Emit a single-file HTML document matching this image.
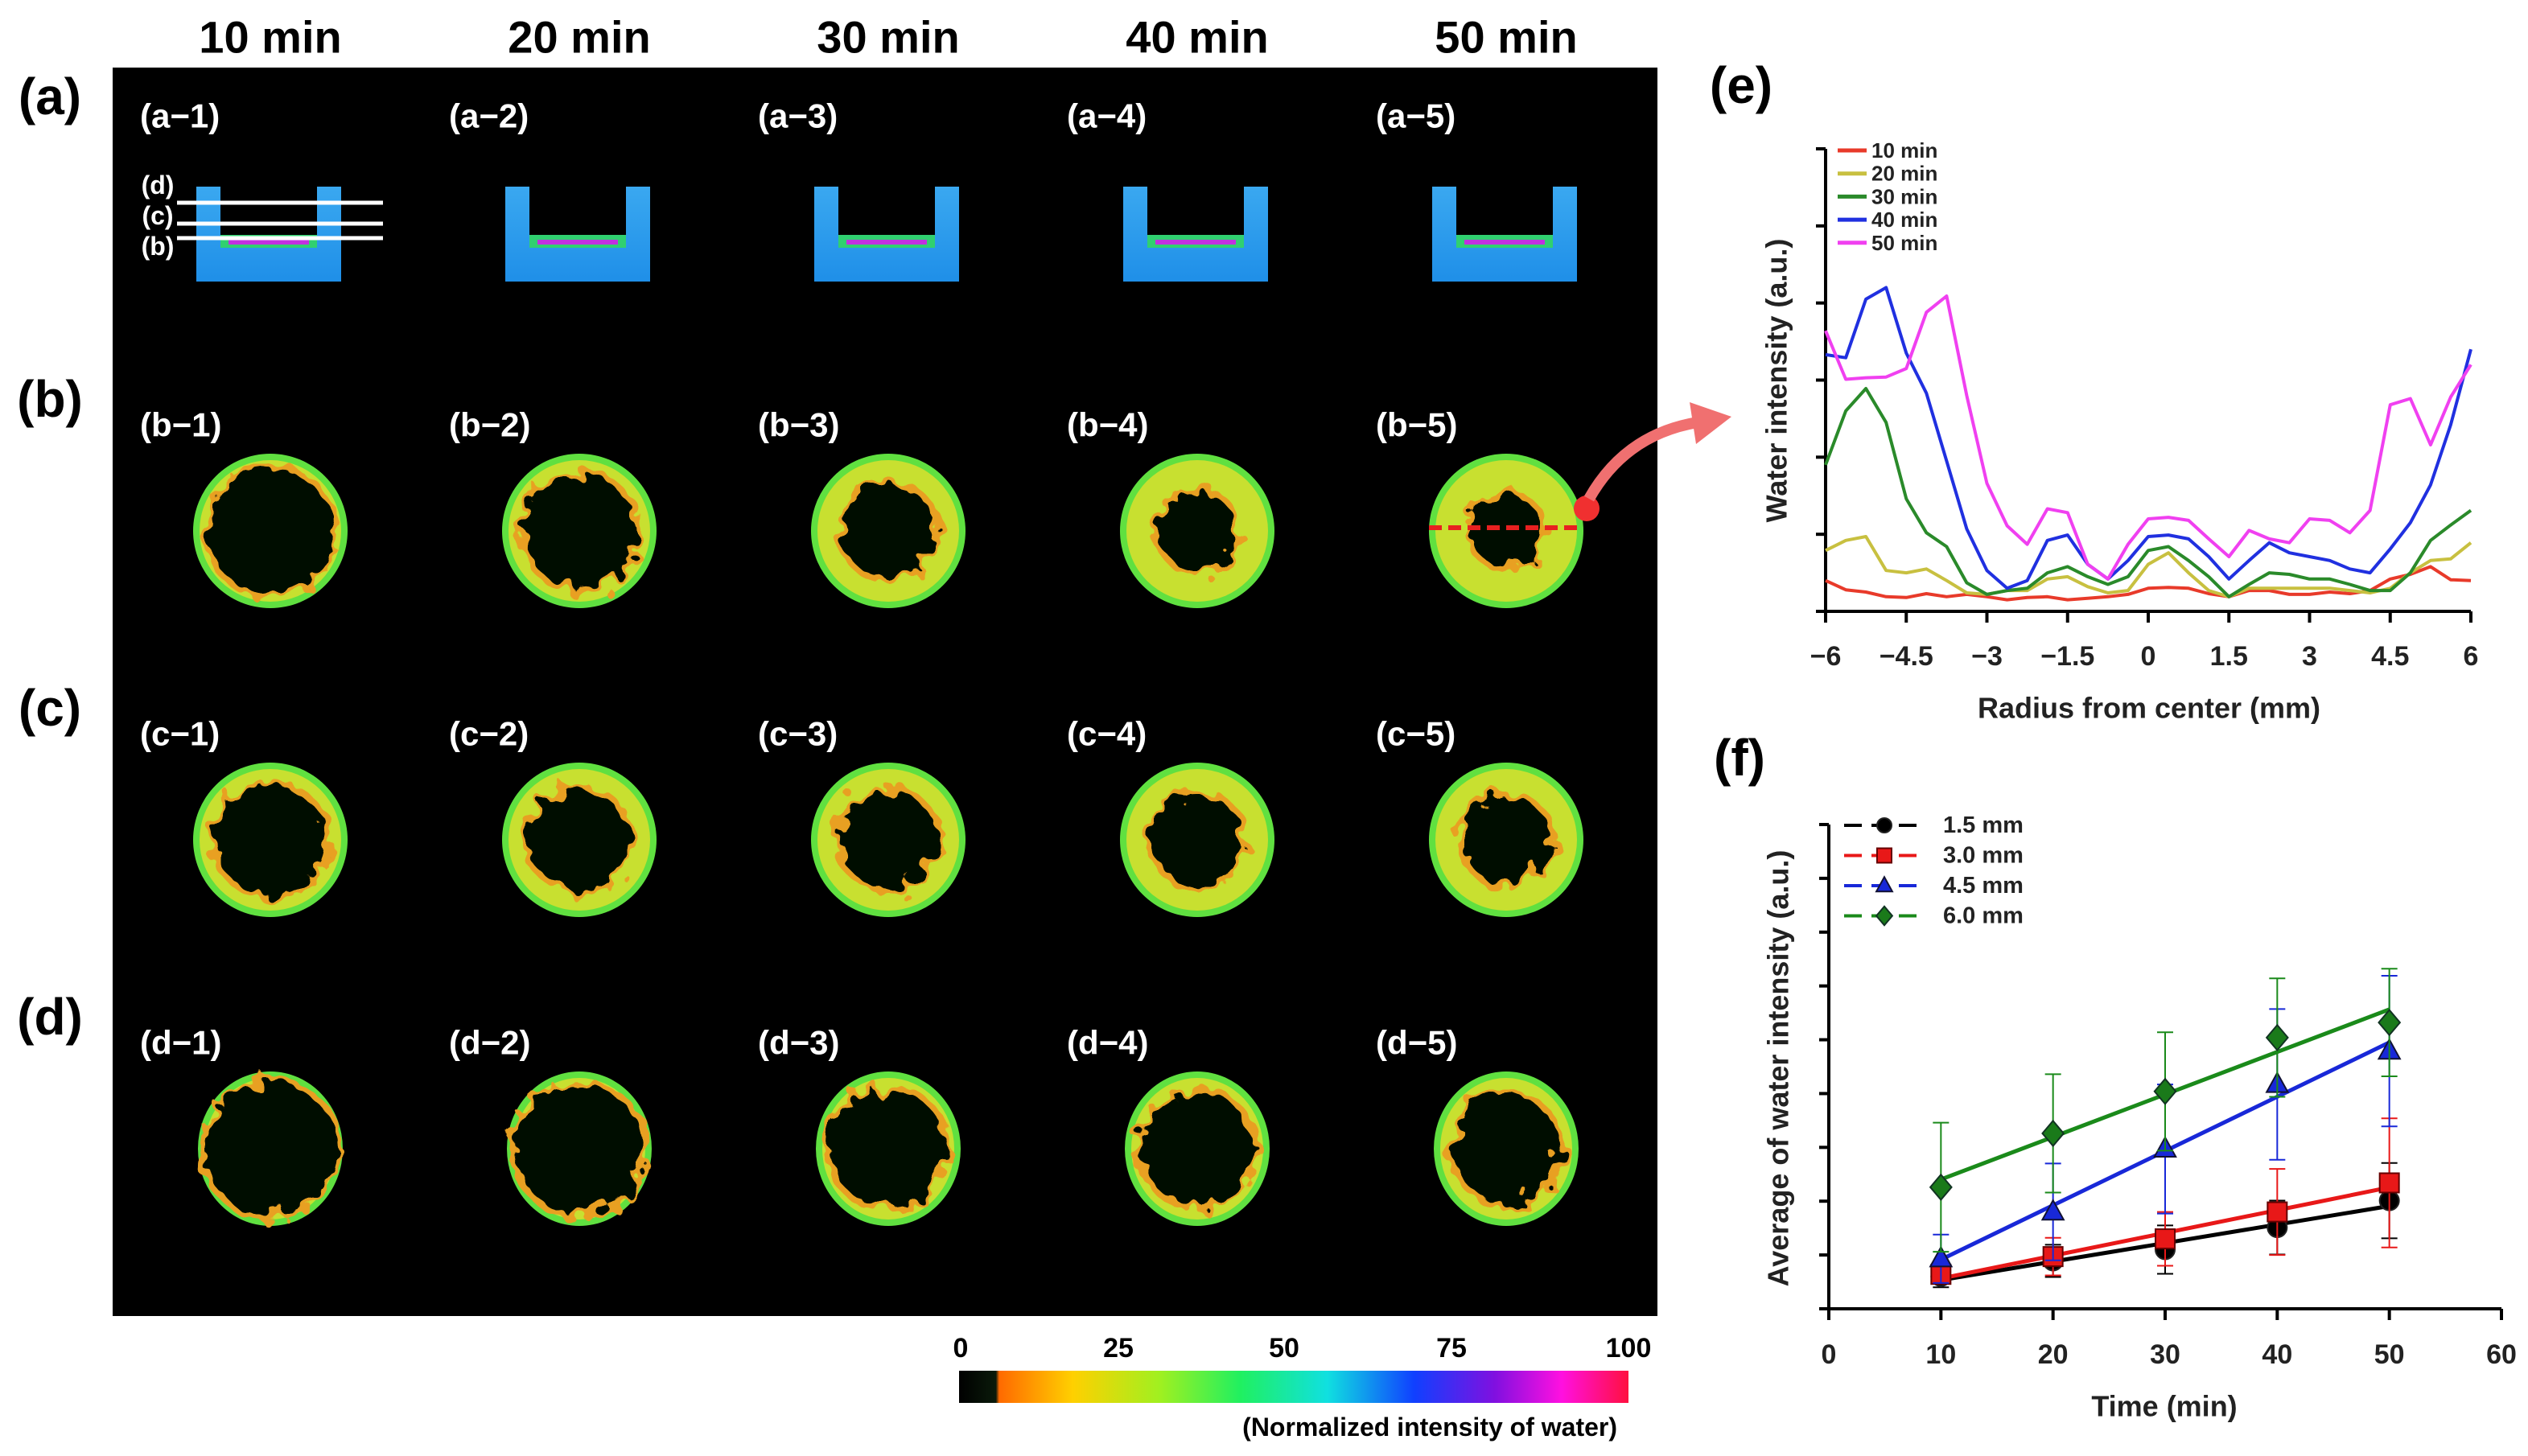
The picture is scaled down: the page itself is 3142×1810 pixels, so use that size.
<!DOCTYPE html>
<html><head><meta charset="utf-8">
<style>
html,body{margin:0;padding:0;background:#fff;}
svg{display:block;font-family:"Liberation Sans",Arial,sans-serif;}
</style></head>
<body>
<svg id="root" width="3142" height="1810" viewBox="0 0 3142 1810" xmlns="http://www.w3.org/2000/svg">
<defs>
 <filter id="rough" x="-20%" y="-20%" width="140%" height="140%">
  <feTurbulence type="fractalNoise" baseFrequency="0.045" numOctaves="2" seed="3"/>
  <feDisplacementMap in="SourceGraphic" scale="38"/>
 </filter>
 <linearGradient id="cbar" x1="0" x2="1" y1="0" y2="0">
  <stop offset="0" stop-color="#000"/><stop offset="0.055" stop-color="#0a1a0a"/>
  <stop offset="0.06" stop-color="#ff6a00"/><stop offset="0.17" stop-color="#ffd000"/>
  <stop offset="0.3" stop-color="#a0f020"/><stop offset="0.42" stop-color="#20f060"/>
  <stop offset="0.55" stop-color="#10e0e0"/><stop offset="0.68" stop-color="#1040ff"/>
  <stop offset="0.8" stop-color="#8010e0"/><stop offset="0.9" stop-color="#ff10e0"/>
  <stop offset="1" stop-color="#ff1040"/>
 </linearGradient>
 <linearGradient id="ublue" x1="0" x2="0" y1="0" y2="1">
  <stop offset="0" stop-color="#3aa8f0"/><stop offset="1" stop-color="#1f8fe8"/>
 </linearGradient>
</defs>
<rect x="140" y="84" width="1920" height="1552" fill="#000"/>
<g id="imgs"></g>
<g id="labels" font-weight="bold"></g>
<g id="chartE"></g>
<g id="chartF"></g>
</svg>
<script>
// ===== Chart E data =====
const eX = [];
for (let i = 0; i <= 32; i++) eX.push(-6 + i * 0.375);
const eSeriesNames = ["10 min","20 min","30 min","40 min","50 min"];
const eColors = ["#e83a2a","#c8c040","#2a8a2a","#2030e0","#f040f0"];
const e10 = [0.40,0.28,0.25,0.19,0.18,0.23,0.19,0.22,0.19,0.15,0.18,0.19,0.15,0.17,0.19,0.22,0.30,0.31,0.30,0.23,0.19,0.27,0.27,0.22,0.22,0.25,0.23,0.27,0.42,0.48,0.58,0.41,0.40];
const e20 = [0.79,0.92,0.97,0.53,0.50,0.55,0.40,0.24,0.22,0.27,0.27,0.42,0.45,0.32,0.24,0.27,0.61,0.76,0.50,0.27,0.19,0.30,0.30,0.30,0.30,0.30,0.27,0.24,0.30,0.50,0.66,0.68,0.89];
const e30 = [1.90,2.60,2.89,2.45,1.46,1.02,0.84,0.37,0.22,0.27,0.30,0.50,0.58,0.45,0.35,0.45,0.79,0.84,0.66,0.45,0.19,0.35,0.50,0.48,0.42,0.42,0.35,0.27,0.27,0.50,0.92,1.12,1.31];
const e40 = [3.33,3.29,4.05,4.20,3.35,2.83,1.95,1.07,0.53,0.30,0.40,0.92,0.99,0.61,0.42,0.66,0.97,0.99,0.94,0.71,0.42,0.66,0.89,0.76,0.71,0.66,0.55,0.50,0.81,1.15,1.64,2.42,3.40];
const e50 = [3.64,3.01,3.03,3.04,3.15,3.88,4.09,2.80,1.66,1.11,0.87,1.33,1.28,0.61,0.42,0.87,1.20,1.22,1.18,0.94,0.71,1.05,0.94,0.89,1.20,1.18,1.02,1.31,2.68,2.76,2.16,2.78,3.20];
const eTicks = [-6,-4.5,-3,-1.5,0,1.5,3,4.5,6];
const eTickLabels = ["\u22126","\u22124.5","\u22123","\u22121.5","0","1.5","3","4.5","6"];

// ===== Chart F data =====
const fTimes = [10,20,30,40,50];
const fNames = ["1.5 mm","3.0 mm","4.5 mm","6.0 mm"];
const fColors = ["#000000","#e81818","#1828d8","#1a8a1a"];
const fMarkerFill = ["#000000","#e81818","#1828d8","#1a7a1a"];
const fMarkers = ["circle","square","triangle","diamond"];
const f15 = [0.60,0.89,1.10,1.51,2.01];
const f30 = [0.64,0.97,1.30,1.80,2.34];
const f45 = [0.93,1.80,2.97,4.17,4.79];
const f60 = [2.26,3.26,4.04,5.04,5.32];
const f15err = [0.2,0.3,0.45,0.5,0.7];
const f30err = [0.15,0.35,0.5,0.8,1.2];
const f45err = [0.45,0.9,1.2,1.4,1.4];
const f60err = [1.2,1.1,1.1,1.1,1.0];
const fXTicks = [0,10,20,30,40,50,60];

const NS = "http://www.w3.org/2000/svg";
function mk(tag, attrs, parent) {
  const el = document.createElementNS(NS, tag);
  for (const k in attrs) el.setAttribute(k, attrs[k]);
  parent.appendChild(el);
  return el;
}

// ===== Images =====
const imgs = document.getElementById('imgs');
const colX = [336,720,1104,1488,1872];
const rowY = {b:660,c:1044,d:1428};
const innerR = {b:[78,70,58,48,44], c:[68,62,60,56,54], d:[82,80,72,70,66]};
["b","c","d"].forEach(function(r){
  colX.forEach(function(cx,i){
    const g = mk('g',{},imgs);
    
    
    const rx = r==='d'?90:96;
    mk('ellipse',{cx:cx,cy:rowY[r],rx:rx,ry:96,fill:'#60e040'},g);
    mk('ellipse',{cx:cx,cy:rowY[r],rx:rx-8,ry:88,fill:'#c8e030'},g);
    mk('ellipse',{cx:cx,cy:rowY[r],rx:innerR[r][i]+7,ry:innerR[r][i]+7,fill:'#e8a020',filter:'url(#rough)'},g);
    mk('ellipse',{cx:cx,cy:rowY[r],rx:innerR[r][i],ry:innerR[r][i],fill:'#050800',filter:'url(#rough)'},g);
  });
});
colX.forEach(function(cx,i){
  const g = mk('g',{},imgs);
  
  
  const x0 = cx-92, y0 = 232;
  mk('path',{d:'M'+x0+' '+y0+' h30 v70 h120 v-70 h30 v118 h-180 z',fill:'url(#ublue)'},g);
  mk('rect',{x:x0+30,y:y0+60,width:120,height:16,fill:'#30d070'},g);
  mk('rect',{x:x0+40,y:y0+66,width:100,height:6,fill:'#c030e0'},g);
});
// section lines on a-1
[252,278,296].forEach(function(y){ mk('line',{x1:220,x2:476,y1:y,y2:y,stroke:'#fff','stroke-width':5},imgs); });
// red dashed line and arrow on b-5
mk('line',{x1:1776,x2:1968,y1:656,y2:656,stroke:'#e82020','stroke-width':6,'stroke-dasharray':'16 8'},imgs);
mk('circle',{cx:1972,cy:632,r:16,fill:'#f03030'},imgs);
const arrow = mk('path',{d:'M1975 620 Q2020 540 2110 525',fill:'none',stroke:'#f07070','stroke-width':14},imgs);


mk('path',{d:'M2100 500 L2152 518 L2108 552 Z',fill:'#f07070'},imgs);
// colorbar
const cb = mk('rect',{x:1192,y:1704,width:832,height:40,fill:'url(#cbar)'},imgs);



// ===== Labels =====
const lab = document.getElementById('labels');
function txt(x,y,s,size,fill,anchor,name,parent,extra){
  const t = mk('text',{x:x,y:y,'font-size':size,fill:fill,'text-anchor':anchor||'start','dominant-baseline':'central'},parent||lab);
  if(extra) for(const k in extra) t.setAttribute(k,extra[k]);
  t.textContent = s;
  
  
  return t;
}
["10 min","20 min","30 min","40 min","50 min"].forEach(function(s,i){ txt(colX[i],46,s,56,'#000','middle','column-header-'+(i+1)); });
const rowLabY = {a:120,b:496,c:880,d:1264};
for (const r in rowLabY) txt(62,rowLabY[r],'('+r+')',64,'#000','middle','row-label-'+r);
const subY = {a:144,b:528,c:912,d:1296};
for (const r in subY) colX.forEach(function(cx,i){ txt(cx-168+6,subY[r],'('+r+'\u2212'+(i+1)+')',42,'#fff','start','sublabel-'+r+'-'+(i+1)); });
txt(196,230,'(d)',32,'#fff','middle','line-label-d');
txt(196,268,'(c)',32,'#fff','middle','line-label-c');
txt(196,306,'(b)',32,'#fff','middle','line-label-b');
[["0",1194],["25",1390],["50",1596],["75",1804],["100",2024]].forEach(function(p){ txt(p[1],1676,p[0],34,'#000','middle','colorbar-tick-'+p[0]); });
txt(2010,1774,'(Normalized intensity of water)',32,'#000','end','colorbar-title');
txt(2164,106,'(e)',64,'#000','middle','panel-label-e');
txt(2162,942,'(f)',64,'#000','middle','panel-label-f');

// ===== Chart E =====
const gE = document.getElementById('chartE');
const eL=2269,eR=3071,eT=185,eB=760, eYmax=6;
function exs(v){ return eL + (v+6)/12*(eR-eL); }
function eys(v){ return eB - v/eYmax*(eB-eT); }
mk('line',{x1:eL,x2:eL,y1:eT,y2:eB,stroke:'#000','stroke-width':4},gE);
mk('line',{x1:eL,x2:eR,y1:eB,y2:eB,stroke:'#000','stroke-width':4},gE);
for (let v=0; v<=eYmax; v++) mk('line',{x1:eL-12,x2:eL,y1:eys(v),y2:eys(v),stroke:'#000','stroke-width':4},gE);
eTicks.forEach(function(v,i){
  mk('line',{x1:exs(v),x2:exs(v),y1:eB,y2:eB+14,stroke:'#000','stroke-width':4},gE);
  txt(exs(v),816,eTickLabels[i],34,'#222','middle','e-x-tick-'+i,gE,{'font-weight':'bold'});
});
txt(2671,880,'Radius from center (mm)',36,'#222','middle','e-x-axis-title',gE,{'font-weight':'bold'});
txt(2208,473,'Water intensity (a.u.)',36,'#222','middle','e-y-axis-title',gE,{'font-weight':'bold',transform:'rotate(-90 2208 473)'});
[e10,e20,e30,e40,e50].forEach(function(ser,si){
  const d = ser.map(function(v,i){ return (i?'L':'M')+exs(eX[i]).toFixed(1)+' '+eys(v).toFixed(1); }).join(' ');
  const p = mk('path',{d:d,fill:'none',stroke:eColors[si],'stroke-width':4,'stroke-linejoin':'round'},gE);
  
  
  const ly = 187 + si*28.7;
  const ll = mk('line',{x1:2284,x2:2320,y1:ly,y2:ly,stroke:eColors[si],'stroke-width':5},gE);
  
  
  txt(2326,ly,eSeriesNames[si],26,'#222','start','e-legend-entry-'+(si+1),gE,{'font-weight':'bold'});
});

// ===== Chart F =====
const gF = document.getElementById('chartF');
const fL=2273,fR=3109,fT=1025,fB=1627,fYmax=9;
function fxs(v){ return fL + v/60*(fR-fL); }
function fys(v){ return fB - v/fYmax*(fB-fT); }
mk('line',{x1:fL,x2:fL,y1:fT,y2:fB,stroke:'#000','stroke-width':4},gF);
mk('line',{x1:fL,x2:fR,y1:fB,y2:fB,stroke:'#000','stroke-width':4},gF);
for (let v=0; v<=fYmax; v++) mk('line',{x1:fL-12,x2:fL,y1:fys(v),y2:fys(v),stroke:'#000','stroke-width':4},gF);
fXTicks.forEach(function(v,i){
  mk('line',{x1:fxs(v),x2:fxs(v),y1:fB,y2:fB+14,stroke:'#000','stroke-width':4},gF);
  txt(fxs(v),1684,String(v),34,'#222','middle','f-x-tick-'+v,gF,{'font-weight':'bold'});
});
txt(2690,1748,'Time (min)',36,'#222','middle','f-x-axis-title',gF,{'font-weight':'bold'});
txt(2210,1328,'Average of water intensity (a.u.)',36,'#222','middle','f-y-axis-title',gF,{'font-weight':'bold',transform:'rotate(-90 2210 1328)'});
function marker(type,cx,cy,s,fill,parent){
  if(type==='circle') return mk('circle',{cx:cx,cy:cy,r:s,fill:fill,stroke:'#222','stroke-width':2},parent);
  if(type==='square') return mk('rect',{x:cx-s,y:cy-s,width:2*s,height:2*s,fill:fill,stroke:'#600','stroke-width':2},parent);
  if(type==='triangle') return mk('path',{d:'M'+cx+' '+(cy-s*1.2)+' L'+(cx+s*1.1)+' '+(cy+s*0.8)+' L'+(cx-s*1.1)+' '+(cy+s*0.8)+' Z',fill:fill,stroke:'#113','stroke-width':2},parent);
  return mk('path',{d:'M'+cx+' '+(cy-s*1.3)+' L'+(cx+s*1.1)+' '+cy+' L'+cx+' '+(cy+s*1.3)+' L'+(cx-s*1.1)+' '+cy+' Z',fill:fill,stroke:'#132','stroke-width':2},parent);
}
const fData=[f15,f30,f45,f60], fErr=[f15err,f30err,f45err,f60err];
fData.forEach(function(ser,si){
  const n=fTimes.length; let sx=0,sy=0,sxx=0,sxy=0;
  for(let i=0;i<n;i++){sx+=fTimes[i];sy+=ser[i];sxx+=fTimes[i]*fTimes[i];sxy+=fTimes[i]*ser[i];}
  const b=(n*sxy-sx*sy)/(n*sxx-sx*sx), a=(sy-b*sx)/n;
  const t0=fTimes[0], t1=fTimes[n-1];
  const fl = mk('line',{x1:fxs(t0),y1:fys(a+b*t0),x2:fxs(t1),y2:fys(a+b*t1),stroke:fColors[si],'stroke-width':5},gF);
  
  
  ser.forEach(function(v,i){
    const x=fxs(fTimes[i]), e=fErr[si][i];
    mk('line',{x1:x,x2:x,y1:fys(v-e),y2:fys(v+e),stroke:fColors[si],'stroke-width':2},gF);
    mk('line',{x1:x-10,x2:x+10,y1:fys(v-e),y2:fys(v-e),stroke:fColors[si],'stroke-width':2},gF);
    mk('line',{x1:x-10,x2:x+10,y1:fys(v+e),y2:fys(v+e),stroke:fColors[si],'stroke-width':2},gF);
    const m = marker(fMarkers[si],x,fys(v),12,fMarkerFill[si],gF);
    
    
  });
  const ly = 1026 + si*37.5;
  const ll = mk('line',{x1:2292,x2:2390,y1:ly,y2:ly,stroke:fColors[si],'stroke-width':4,'stroke-dasharray':'22 12'},gF);
  
  
  marker(fMarkers[si],2342,ly,9,fMarkerFill[si],gF);
  txt(2415,ly,fNames[si],29,'#222','start','f-legend-entry-'+(si+1),gF,{'font-weight':'bold'});
});
</script>
</body></html>
